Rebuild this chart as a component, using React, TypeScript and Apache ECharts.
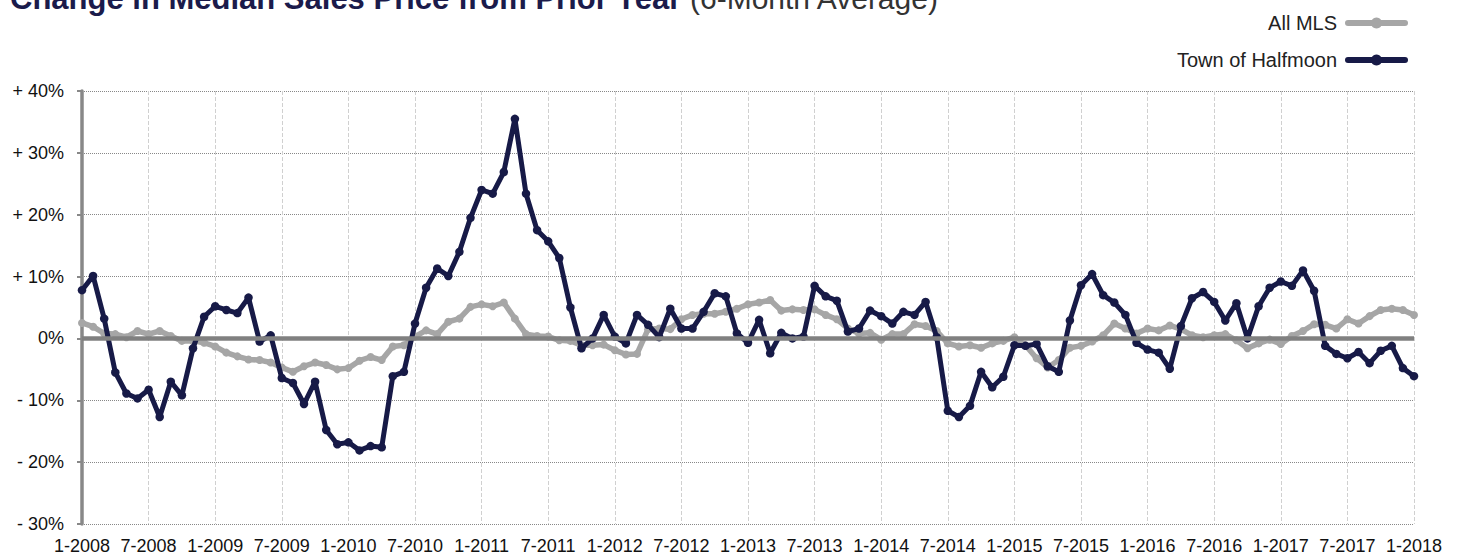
import React, { useEffect, useRef } from "react";
import * as echarts from "echarts";

const years = [2008, 2009, 2010, 2011, 2012, 2013, 2014, 2015, 2016, 2017];
const categories: string[] = [];
for (const y of years) for (let m = 1; m <= 12; m++) categories.push(`${m}-${y}`);
categories.push("1-2018");

const seriesNames = ["All MLS", "Town of Halfmoon"];

const allMLS = [
  2.5, 1.9, 0.8, 0.7, 0.2, 1.2, 0.7, 1.2, 0.4, -0.4, -0.4, -0.7,
  -1.3, -2.3, -2.9, -3.4, -3.5, -3.9, -4.7, -5.4, -4.5, -3.9, -4.3, -5.0,
  -4.8, -3.6, -3.0, -3.5, -1.3, -1.1, 0.3, 1.3, 0.7, 2.7, 3.2, 5.1,
  5.5, 5.2, 5.8, 3.2, 0.7, 0.4, 0.3, -0.3, -0.4, -1.1, -1.1, -1.0,
  -1.9, -2.6, -2.5, 1.5, 1.6, 1.5, 3.1, 3.8, 4.0, 4.0, 4.3, 4.8,
  5.5, 5.8, 6.2, 4.5, 4.7, 4.6, 4.7, 3.8, 3.1, 1.6, 0.8, 0.9,
  -0.2, 0.7, 0.7, 2.3, 2.0, 1.2, -0.8, -1.3, -1.1, -1.5, -0.8, -0.4,
  0.2, -1.1, -3.2, -4.7, -3.5, -1.5, -1.2, -0.5, 0.5, 2.4, 1.6, 0.8,
  1.6, 1.3, 2.1, 1.5, 0.5, 0.2, 0.5, 0.7, -0.3, -1.6, -0.8, -0.2,
  -0.9, 0.4, 1.2, 2.3, 2.2, 1.6, 3.1, 2.4, 3.6, 4.6, 4.8, 4.6,
  3.8,
];

const halfmoon = [
  7.8, 10.1, 3.2, -5.5, -8.9, -9.7, -8.3, -12.7, -7.0, -9.2, -1.6, 3.5,
  5.2, 4.6, 4.1, 6.6, -0.5, 0.5, -6.4, -7.2, -10.6, -7.0, -14.8, -17.1,
  -16.8, -18.1, -17.4, -17.6, -6.1, -5.4, 2.4, 8.2, 11.3, 10.1, 14.0, 19.5,
  24.0, 23.4, 26.9, 35.5, 23.4, 17.5, 15.7, 13.0, 5.0, -1.6, 0.0, 3.8,
  0.3, -0.8, 3.8, 2.2, 0.2, 4.8, 1.6, 1.6, 4.3, 7.3, 6.8, 0.8,
  -0.7, 3.0, -2.4, 0.9, 0.0, 0.3, 8.5, 6.8, 6.1, 1.1, 1.6, 4.5,
  3.6, 2.4, 4.3, 3.8, 5.9, 0.2, -11.7, -12.7, -10.9, -5.4, -7.9, -6.2,
  -1.1, -1.2, -0.9, -4.5, -5.4, 2.9, 8.6, 10.4, 7.0, 5.8, 3.8, -0.7,
  -1.8, -2.3, -4.9, 2.0, 6.5, 7.5, 5.9, 2.9, 5.7, 0.0, 5.2, 8.2,
  9.2, 8.5, 11.0, 7.7, -1.2, -2.5, -3.2, -2.2, -4.0, -2.0, -1.2, -4.8,
  -6.1,
];

const FONT = "'Liberation Sans', Arial, Helvetica, sans-serif";
const GRAY = "#a6a6a6";
const NAVY = "#171a47";

export default function App() {
  const ref = useRef<HTMLDivElement>(null);
  useEffect(() => {
    if (!ref.current) return;
    const chart = echarts.init(ref.current, undefined, { renderer: "svg" });
    chart.setOption({
      animation: false,
      backgroundColor: "#ffffff",
      textStyle: { fontFamily: FONT },
      graphic: [
        {
          type: "text",
          left: 10,
          top: -17,
          style: {
            text: "Change in Median Sales Price from Prior Year",
            fontFamily: FONT,
            fontWeight: "bold",
            fontSize: 31,
            fill: "#1b1b4b",
          },
        },
        {
          type: "text",
          left: 690,
          top: -17,
          style: {
            text: "(6-Month Average)",
            fontFamily: FONT,
            fontSize: 30,
            fill: "#333333",
          },
        },
      ],
      legend: {
        data: [
          {
            name: seriesNames[0],
            itemStyle: { color: GRAY },
            lineStyle: { color: GRAY, width: 6, cap: "round" },
          },
          {
            name: seriesNames[1],
            itemStyle: { color: NAVY },
            lineStyle: { color: NAVY, width: 6, cap: "round" },
          },
        ],
        orient: "vertical",
        align: "right",
        right: 47,
        top: 8,
        itemWidth: 57,
        itemHeight: 14,
        itemGap: 17,
        textStyle: {
          fontSize: 20,
          color: "#222",
          fontFamily: FONT,
          padding: [0, 6, 0, 0],
        },
      },
      grid: { left: 82, right: 46, top: 91, bottom: 31, containLabel: false },
      xAxis: {
        type: "category",
        data: categories,
        boundaryGap: false,
        axisLine: { show: false },
        axisTick: { show: false },
        axisLabel: {
          interval: 5,
          margin: 13,
          fontSize: 18,
          color: "#111",
          fontFamily: FONT,
        },
        splitLine: {
          show: true,
          interval: 5,
          lineStyle: { color: "#d0d0d0", width: 1, type: "dashed" },
        },
      },
      yAxis: {
        type: "value",
        min: -30,
        max: 40,
        interval: 10,
        axisLine: { show: true, lineStyle: { color: "#888", width: 3.5 } },
        axisTick: { show: true, length: 5, lineStyle: { color: "#888", width: 2 } },
        axisLabel: {
          margin: 18,
          fontSize: 18,
          color: "#111",
          fontFamily: FONT,
          formatter: (v: number) => (v > 0 ? `+ ${v}%` : v < 0 ? `- ${-v}%` : "0%"),
        },
        splitLine: { show: true, lineStyle: { color: "#888", width: 1, type: "dotted" } },
      },
      series: [
        {
          name: "zero",
          type: "line",
          data: [],
          z: 1,
          silent: true,
          markLine: {
            silent: true,
            symbol: "none",
            label: { show: false },
            lineStyle: { color: "#808080", width: 4.5, type: "solid" },
            data: [{ yAxis: 0 }],
          },
        },
        {
          name: seriesNames[0],
          type: "line",
          data: allMLS,
          z: 2,
          symbol: "circle",
          symbolSize: 8,
          showAllSymbol: true,
          itemStyle: { color: GRAY },
          lineStyle: { color: GRAY, width: 5.5 },
        },
        {
          name: seriesNames[1],
          type: "line",
          data: halfmoon,
          z: 3,
          symbol: "circle",
          symbolSize: 8.5,
          showAllSymbol: true,
          itemStyle: { color: NAVY },
          lineStyle: { color: NAVY, width: 5 },
        },
      ],
    });
    return () => chart.dispose();
  }, []);
  return (
    <div
      ref={ref}
      style={{ position: "fixed", left: 0, top: 0, width: 1460, height: 555 }}
    />
  );
}
